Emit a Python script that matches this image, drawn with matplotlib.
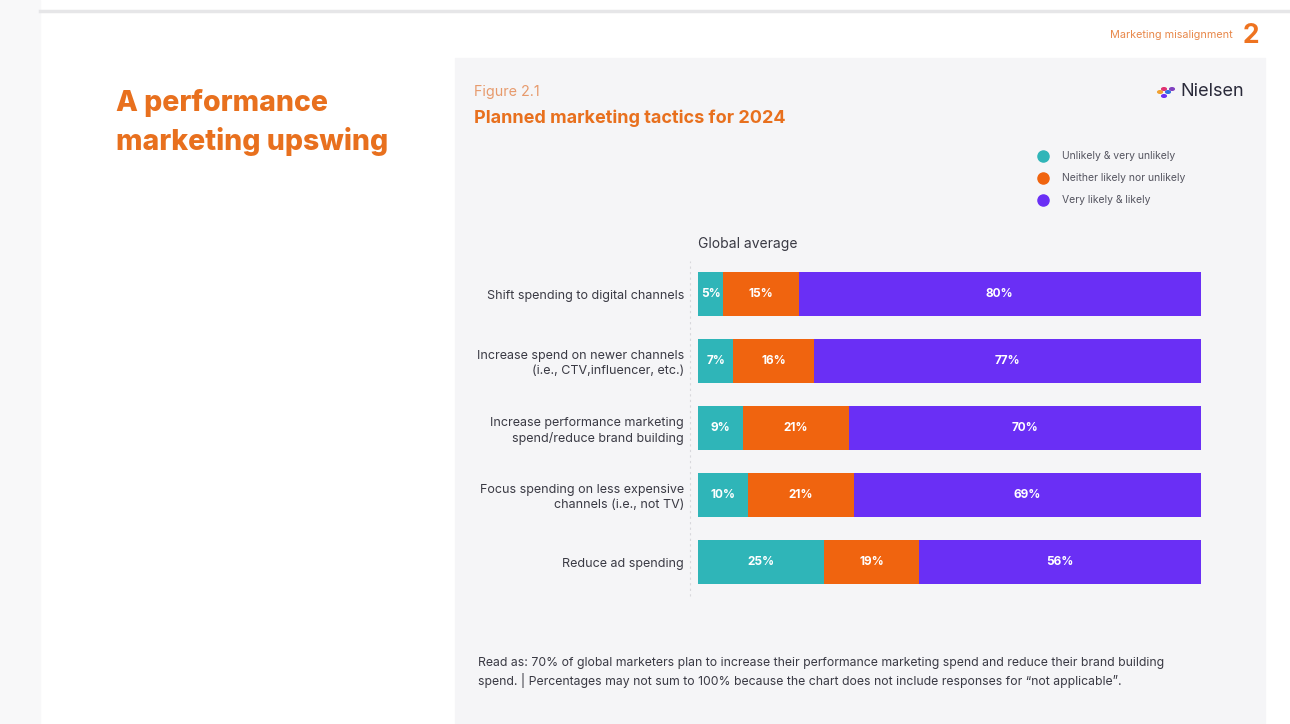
import matplotlib
matplotlib.use("Agg")
import matplotlib.pyplot as plt
from matplotlib.patches import Rectangle
from matplotlib.lines import Line2D

plt.rcParams['font.family'] = ['Inter', 'DejaVu Sans']

categories = [
    "Shift spending to digital channels",
    "Increase spend on newer channels\n(i.e., CTV,influencer, etc.)",
    "Increase performance marketing\nspend/reduce brand building",
    "Focus spending on less expensive\nchannels (i.e., not TV)",
    "Reduce ad spending",
]
unlikely = [5, 7, 9, 10, 25]
neither = [15, 16, 21, 21, 19]
likely = [80, 77, 70, 69, 56]
series_names = ["Unlikely & very unlikely", "Neither likely nor unlikely", "Very likely & likely"]
colors = ["#2fb5b8", "#f0640f", "#6a2ff5"]

W, H = 1290, 724
fig = plt.figure(figsize=(W / 100, H / 100), dpi=100)
fig.patch.set_facecolor("white")

def fx(x):
    return x / W

def fy(y):
    return 1 - y / H

# page decorations
fig.add_artist(Rectangle((0, 0), fx(40), 1, transform=fig.transFigure, color="#f8f8f9", zorder=0))
fig.add_artist(Line2D([fx(40), 1], [fy(11), fy(11)], transform=fig.transFigure, color="#e6e6e8", lw=2.5))
# chart panel
fig.add_artist(Rectangle((fx(455), 0), fx(1265) - fx(455), fy(58), transform=fig.transFigure,
                         color="#f5f5f7", zorder=0))

# header
fig.text(fx(1233), fy(35), "Marketing misalignment", ha="right", va="center", fontsize=7.8, color="#e8884a")
fig.text(fx(1243), fy(36), "2", ha="left", va="center", fontsize=19, fontweight="bold", color="#ee7320")

fig.text(fx(116), fy(103), "A performance", ha="left", va="center", fontsize=20.5, fontweight="heavy", color="#e8701e")
fig.text(fx(116), fy(141), "marketing upswing", ha="left", va="center", fontsize=20.5, fontweight="heavy", color="#e8701e")

fig.text(fx(474), fy(92), "Figure 2.1", ha="left", va="center", fontsize=10.3, color="#e79a6c")
fig.text(fx(474), fy(118), "Planned marketing tactics for 2024", ha="left", va="center", fontsize=13,
         fontweight="bold", color="#e8701e")

# Nielsen logo
fig.text(fx(1244), fy(92), "Nielsen", ha="right", va="center", fontsize=13, color="#2a2a3a")
for (dx, dy, c) in [(1160, 92, "#f0a030"), (1164, 89, "#e03070"), (1168, 92, "#3070e0"), (1164, 96, "#6a2ff5"), (1172, 89, "#8040c0")]:
    fig.add_artist(plt.Circle((fx(dx), fy(dy)), 0.0018, transform=fig.transFigure, color=c))

# legend
for i, (name, c) in enumerate(zip(series_names, colors)):
    y = 156 + 22 * i
    fig.add_artist(Line2D([fx(1043)], [fy(y)], transform=fig.transFigure, marker="o", markersize=8,
                          color=c, linestyle="none"))
    fig.text(fx(1062), fy(y), name, ha="left", va="center", fontsize=7.5, color="#555560")

fig.text(fx(698), fy(244), "Global average", ha="left", va="center", fontsize=10, color="#3a3a44")

# bar axes
ax = fig.add_axes([fx(698), fy(595.5), fx(1201) - fx(698), (595.5 - 260.5) / H])
ax.set_facecolor("none")
y = list(range(len(categories)))
left = [0] * len(categories)
for vals, c in zip([unlikely, neither, likely], colors):
    ax.barh(y, vals, left=left, height=0.66, color=c, edgecolor="none")
    for yi, v, l in zip(y, vals, left):
        ax.text(l + v / 2, yi, f"{v}%", ha="center", va="center", fontsize=8.5, fontweight="bold", color="white")
    left = [a + b for a, b in zip(left, vals)]

ax.set_xlim(0, 100)
ax.set_ylim(4.5, -0.5)
ax.set_yticks(y)
ax.set_yticklabels(categories, fontsize=9, color="#3a3a44", linespacing=1.3)
ax.tick_params(axis="y", length=0, pad=10)
ax.set_xticks([])
for s in ax.spines.values():
    s.set_visible(False)
ax.axvline(-1.5, color="#d8d8dc", lw=0.8, ls=(0, (2, 3)), clip_on=False)
for lbl in ax.get_yticklabels():
    lbl.set_multialignment("right")

# footnote
fig.text(fx(478), fy(663), "Read as: 70% of global marketers plan to increase their performance marketing spend and reduce their brand building",
         ha="left", va="center", fontsize=8.8, color="#3a3a44")
fig.text(fx(478), fy(680), "spend. | Percentages may not sum to 100% because the chart does not include responses for \u201cnot applicable\u201d.",
         ha="left", va="center", fontsize=8.8, color="#3a3a44")

fig.savefig("out.png", dpi=100)
